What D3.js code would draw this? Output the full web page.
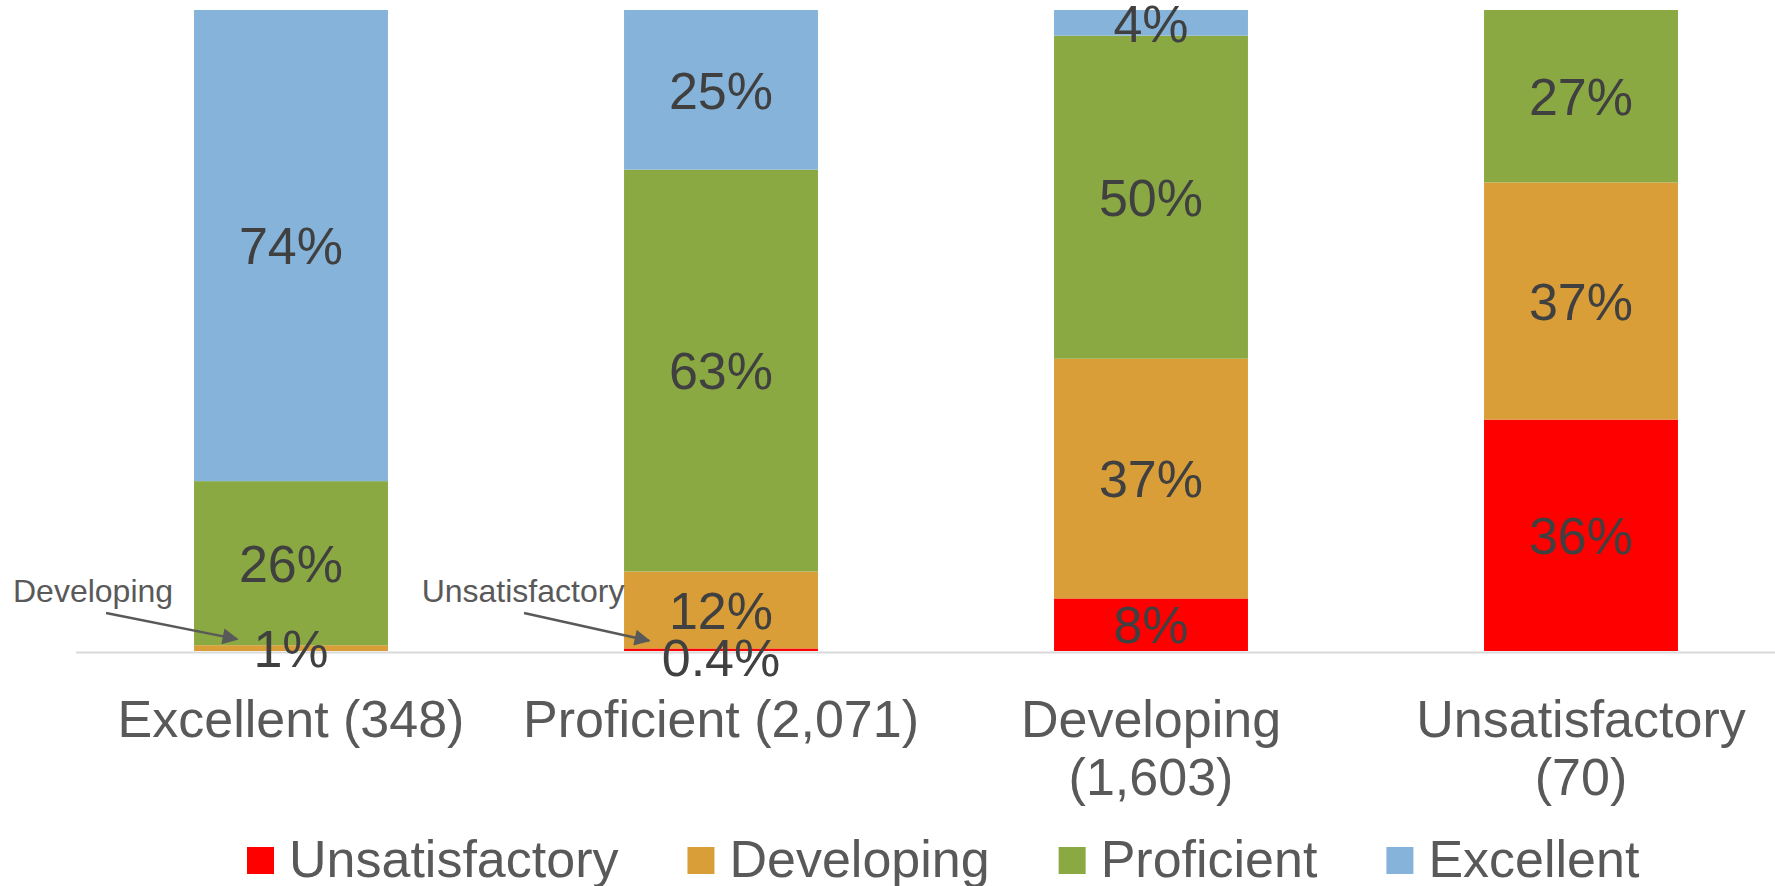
<!DOCTYPE html>
<html>
<head>
<meta charset="utf-8">
<script src="https://cdn.jsdelivr.net/npm/d3@7"></script>
<style>
  body { margin: 0; background: #fff; }
  text { font-family: "Liberation Sans", Arial, sans-serif; }
</style>
</head>
<body>
<svg id="chart"></svg>
<script>
let width = 1775,
    height = 886;

// data (percent of each group)
let categories = ["Excellent", "Proficient", "Developing", "Unsatisfactory"]
let counts = ["348", "2,071", "1,603", "70"]
let seriesNames = ["Unsatisfactory", "Developing", "Proficient", "Excellent"]
let unsatisfactory = [0, 0.4, 8.2, 36.1]
let developing = [0.9, 12.0, 37.4, 37.0]
let proficient = [25.6, 62.7, 50.4, 26.9]
let excellent = [73.5, 24.9, 4.0, 0]
let colors = ["#ff0000", "#d99e38", "#8aa942", "#85b3d9"]

// callouts pointing to the tiny segments
let callouts = [
    { cat: "Excellent", series: "Developing", text: "Developing" },
    { cat: "Proficient", series: "Unsatisfactory", text: "Unsatisfactory" }
]

let rows = categories.map((c, i) => ({
    cat: c,
    Unsatisfactory: unsatisfactory[i],
    Developing: developing[i],
    Proficient: proficient[i],
    Excellent: excellent[i]
}))

let svg = d3.select("#chart")
    .attr("width", width)
    .attr("height", height)

let xScale = d3.scaleBand()
    .domain(categories)
    .range([76, 1796])
    .paddingInner(0.549)
    .paddingOuter(0.2745)

let yScale = d3.scaleLinear()
    .domain([0, 100])
    .range([651, 10])

let color = d3.scaleOrdinal().domain(seriesNames).range(colors)

let stacked = d3.stack().keys(seriesNames)(rows)

// small shares keep one decimal, the rest are rounded
let fmt = v => (v < 0.5 ? d3.format(".1f")(v) : Math.round(v)) + "%"

// axis line
svg.append("line")
    .attr("x1", 76)
    .attr("x2", width)
    .attr("y1", 652.5)
    .attr("y2", 652.5)
    .attr("stroke", "#d9d9d9")
    .attr("stroke-width", 2)

let layers = svg.append("g")
    .selectAll("g")
    .data(stacked)
    .enter()
    .append("g")
    .attr("fill", d => color(d.key))

layers.selectAll("rect")
    .data(d => d)
    .enter()
    .append("rect")
    .attr("x", d => xScale(d.data.cat))
    .attr("width", xScale.bandwidth())
    .attr("y", d => yScale(d[1]))
    .attr("height", d => yScale(d[0]) - yScale(d[1]))

// data labels
let labels = svg.append("g")
stacked.forEach(layer => {
    layer.forEach(d => {
        let v = +(d[1] - d[0]).toFixed(1)
        if (v <= 0) return
        labels.append("text")
            .attr("x", xScale(d.data.cat) + xScale.bandwidth() / 2)
            .attr("y", (yScale(d[0]) + yScale(d[1])) / 2)
            .attr("dy", v < 0.5 ? "0.5em" : "0.36em")
            .attr("text-anchor", "middle")
            .attr("font-size", "52px")
            .attr("fill", "#404040")
            .text(fmt(v))
    })
})

// category labels, wrapped to the band like the original
let catLabels = svg.append("g")
categories.forEach((c, i) => {
    let cx = xScale(c) + xScale.bandwidth() / 2
    let t = catLabels.append("text")
        .attr("x", cx)
        .attr("y", 737)
        .attr("text-anchor", "middle")
        .attr("font-size", "52px")
        .attr("fill", "#595959")
        .text(c + " (" + counts[i] + ")")
    if (t.node().getComputedTextLength() > xScale.step()) {
        t.text(null)
        t.append("tspan").attr("x", cx).text(c)
        t.append("tspan").attr("x", cx).attr("dy", 58).text("(" + counts[i] + ")")
    }
})

// callouts
svg.append("defs").append("marker")
    .attr("id", "arrow")
    .attr("viewBox", "0 0 10 10")
    .attr("refX", 9)
    .attr("refY", 5)
    .attr("markerWidth", 20)
    .attr("markerHeight", 16)
    .attr("markerUnits", "userSpaceOnUse")
    .attr("orient", "auto")
    .append("path")
    .attr("d", "M0,0 L10,5 L0,10 z")
    .attr("fill", "#595959")

let callG = svg.append("g")
callouts.forEach((a, i) => {
    let layer = stacked.find(s => s.key == a.series)
    let d = layer[categories.indexOf(a.cat)]
    let left = xScale(a.cat)
    let midY = (yScale(d[0]) + yScale(d[1])) / 2
    let tx = left - 101
    callG.append("text")
        .attr("x", tx)
        .attr("y", 602)
        .attr("text-anchor", "middle")
        .attr("font-size", "32px")
        .attr("fill", "#595959")
        .text(a.text)
    callG.append("line")
        .attr("x1", tx + (i == 0 ? 13 : 1))
        .attr("y1", 613)
        .attr("x2", left + (i == 0 ? 43 : 25))
        .attr("y2", midY - 9)
        .attr("stroke", "#595959")
        .attr("stroke-width", 2.5)
        .attr("marker-end", "url(#arrow)")
})

// legend
let legend = svg.append("g")
let lx = 247
seriesNames.forEach(s => {
    legend.append("rect")
        .attr("x", lx)
        .attr("y", 847)
        .attr("width", 27)
        .attr("height", 27)
        .attr("fill", color(s))
    let t = legend.append("text")
        .attr("x", lx + 42)
        .attr("y", 877)
        .attr("font-size", "52px")
        .attr("fill", "#595959")
        .text(s)
    lx = lx + 42 + t.node().getComputedTextLength() + 69
})
</script>
</body>
</html>
